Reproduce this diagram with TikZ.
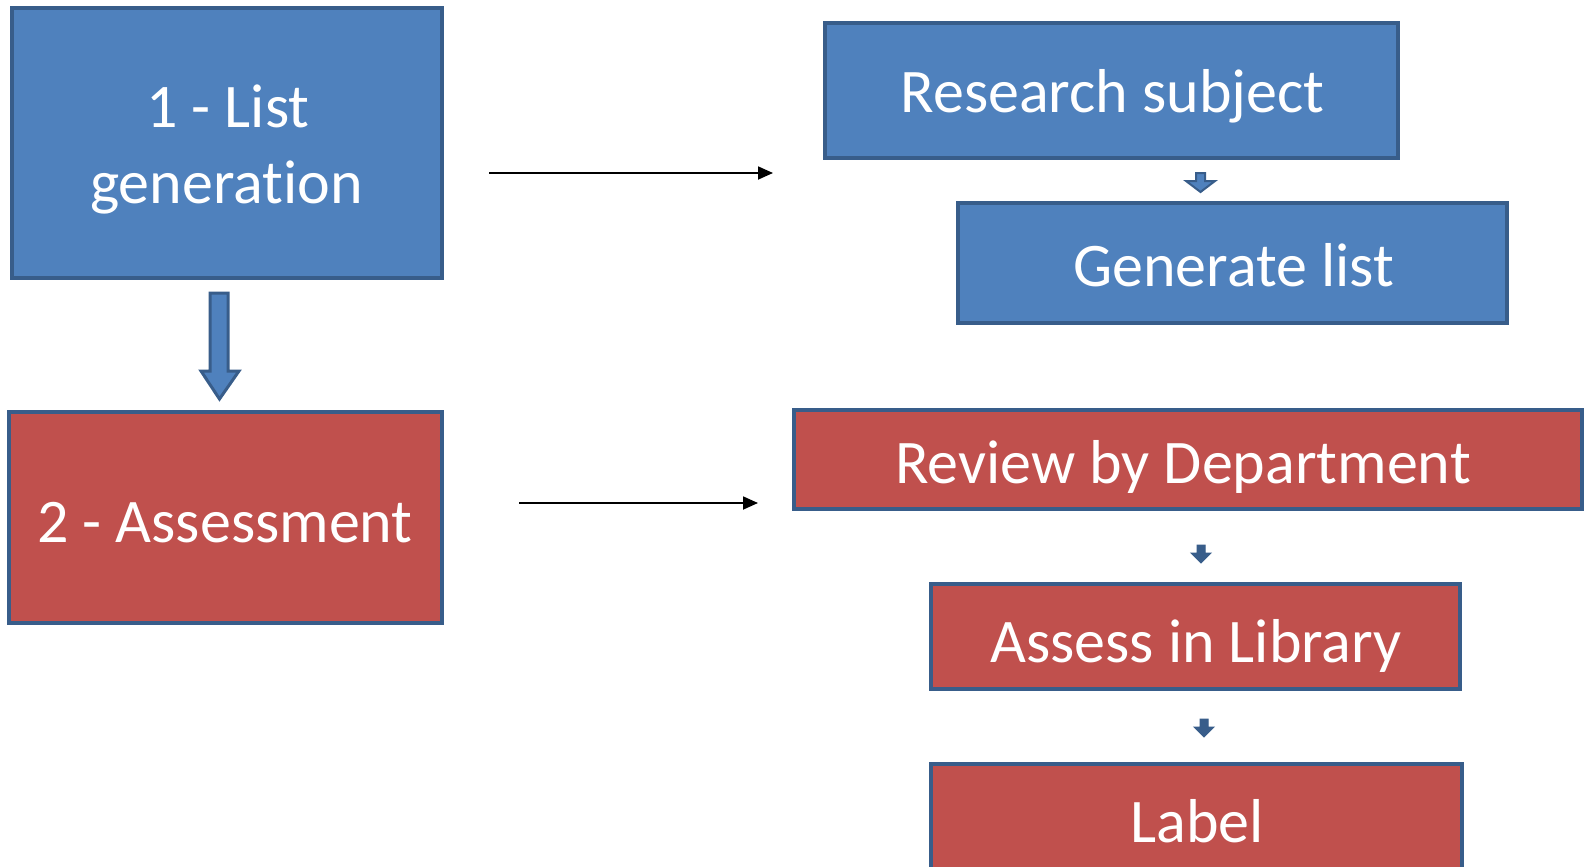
\documentclass[tikz,border=0pt]{standalone}
\usepackage{fontspec}
\usetikzlibrary{arrows.meta}
\setmainfont{Carlito}[Ligatures={NoCommon,NoContextual}]
\definecolor{bfill}{HTML}{4F81BD}
\definecolor{rfill}{HTML}{C0504D}
\definecolor{bline}{HTML}{385D8A}
\begin{document}
\begin{tikzpicture}[x=1pt,y=-1pt,
  box/.style={draw=bline,line width=3.5pt,inner sep=0pt},
  bbox/.style={box,fill=bfill},
  rbox/.style={box,fill=rfill},
  txt/.style={text=white,font=\fontsize{62}{76}\selectfont,inner sep=0pt,anchor=base},
  conn/.style={-{Triangle[length=15pt,width=13pt]},line width=1.8pt,black},
  blk/.style={fill=bfill,draw=bline,line width=2.5pt,line join=miter}]
\useasboundingbox (0,0) rectangle (1585,867);
\clip (0,0) rectangle (1585,867);
\fill[white] (0,0) rectangle (1585,867);
% left boxes
\node[bbox,minimum width=430pt,minimum height=270pt] (s1) at (227,143) {};
\node[txt] (s1a) at (228,127) {1 - List};
\node[txt] (s1b) at (226.5,203) {generation};
\node[rbox,minimum width=433pt,minimum height=211pt] (s2) at (225.5,517.5) {};
\node[txt] (s2t) at (225,542) {2 - Assessment};
% right boxes
\node[bbox,minimum width=573pt,minimum height=135pt] (rs) at (1111.5,90.5) {};
\node[txt] (rst) at (1112.5,112) {Research subject};
\node[bbox,minimum width=549pt,minimum height=120pt] (gl) at (1232.5,263) {};
\node[txt] (glt) at (1233.5,286) {Generate list};
\node[rbox,minimum width=788pt,minimum height=99pt] (rd) at (1188,459.5) {};
\node[txt] (rdt) at (1183,483) {Review by Department};
\node[rbox,minimum width=529pt,minimum height=105pt] (al) at (1195.5,636.5) {};
\node[txt] (alt) at (1196,662) {Assess in Library};
\node[rbox,minimum width=531pt,minimum height=170pt] (lb) at (1196.5,849) {};
\node[txt] (lbt) at (1197,842) {Label};
% connectors
\coordinate (a1s) at (489,173);
\coordinate (a1e) at (773,173);
\draw[conn] (a1s) -- (a1e);
\coordinate (a2s) at (519,503);
\coordinate (a2e) at (758,503);
\draw[conn] (a2s) -- (a2e);
% big block arrow
\draw[blk,line width=3pt] (210,293) -- (228,293) -- (228,371) -- (239,371) -- (219.5,399) -- (201,371) -- (210,371) -- cycle;
% small block arrows
\draw[blk,line width=2pt] (1196,173) -- (1205,173) -- (1205,181) -- (1215,181) -- (1200.5,192) -- (1186,181) -- (1196,181) -- cycle;
\draw[blk,fill=bline,line width=1pt] (1197,545) -- (1205,545) -- (1205,553) -- (1211,553) -- (1201,563) -- (1191,553) -- (1197,553) -- cycle;
\draw[blk,fill=bline,line width=1pt] (1200,719) -- (1208,719) -- (1208,727) -- (1214,727) -- (1204,737) -- (1194,727) -- (1200,727) -- cycle;
\end{tikzpicture}
\end{document}
